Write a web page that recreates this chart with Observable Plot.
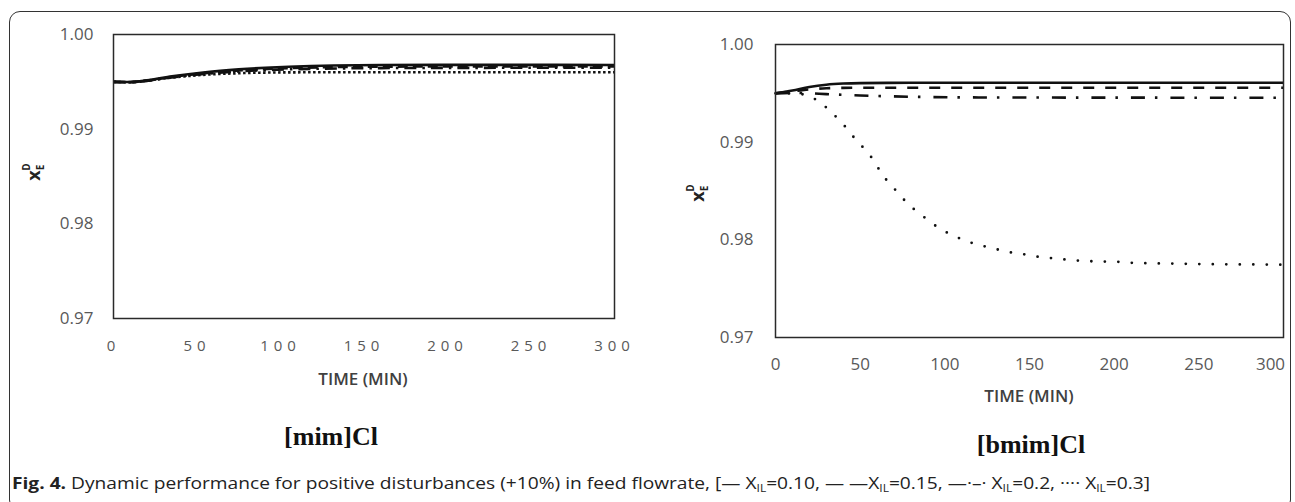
<!DOCTYPE html>
<html><head><meta charset="utf-8">
<script src="https://cdn.jsdelivr.net/npm/d3@7"></script>
<script src="https://cdn.jsdelivr.net/npm/@observablehq/plot@0.6"></script>
<style>
body{margin:0;background:#fff;width:1295px;height:502px;overflow:hidden;position:relative;font-family:"Open Sans",sans-serif;}
#border{position:absolute;left:9px;top:11px;width:1282px;height:500px;border:1.5px solid #333;border-radius:11px;box-sizing:border-box}
.chart{position:absolute;top:0}
.chart svg{overflow:visible}
.t{position:absolute;white-space:nowrap;transform:translate(-50%,-50%)}
.xt{font-weight:600;font-size:17px;color:#404040}
.sub{font-family:"Liberation Serif",serif;font-weight:bold;font-size:26px;color:#111}
.yt{font-weight:700;font-size:18px;color:#222;transform:translate(-50%,-50%) rotate(-90deg)}
.yt sub{font-size:10px;vertical-align:-4px}
.yt sup{font-size:10px;vertical-align:10px;margin-left:-6px}
#cap{position:absolute;left:12px;top:472px;font-size:16px;color:#222;white-space:nowrap;transform-origin:0 50%}
#cap sub{font-size:10px;vertical-align:-3px}
#left .xtick text{letter-spacing:5px}
</style></head><body>
<div id="border"></div>
<div id="left" class="chart" style="left:0"></div>
<div id="right" class="chart" style="left:650px"></div>
<div class="t yt" style="left:33px;top:172px">x<sub>E</sub><sup>D</sup></div>
<div class="t yt" style="left:697px;top:193px">x<sub>E</sub><sup>D</sup></div>
<div class="t xt" style="left:363px;top:378px">TIME (MIN)</div>
<div class="t xt" style="left:1029px;top:395px">TIME (MIN)</div>
<div class="t sub" style="left:331px;top:437px">[mim]Cl</div>
<div class="t sub" style="left:1031px;top:445px">[bmim]Cl</div>
<div id="cap"><b>Fig. 4.</b> Dynamic performance for positive disturbances (+10%) in feed flowrate, [— X<sub>IL</sub>=0.10, — —X<sub>IL</sub>=0.15, —·–· X<sub>IL</sub>=0.2, ···· X<sub>IL</sub>=0.3]</div>
<script>
// ---- data: [mim]Cl (left) ----
const leftTime = [0, 10, 20, 35, 55, 75, 105, 160, 230, 300];
const leftX010 = [0.9950, 0.99498, 0.99515, 0.99558, 0.99602, 0.99632, 0.99660, 0.99678, 0.99679, 0.99678];
const leftX015 = [0.9950, 0.99497, 0.99512, 0.99552, 0.99592, 0.99620, 0.99645, 0.99660, 0.99663, 0.99663];
const leftX020 = [0.9950, 0.99496, 0.99510, 0.99547, 0.99585, 0.99610, 0.99632, 0.99645, 0.99648, 0.99648];
const leftX030 = [0.9950, 0.99496, 0.99515, 0.99545, 0.99575, 0.99591, 0.99600, 0.99602, 0.99602, 0.99602];
// ---- data: [bmim]Cl (right) ----
const rightTime = [0, 10, 20, 30, 40, 50, 80, 120, 200, 300];
const rightX010 = [0.9950, 0.99530, 0.99565, 0.99588, 0.99600, 0.99605, 0.99608, 0.99608, 0.99608, 0.99608];
const rightX015 = [0.9950, 0.99520, 0.99540, 0.99552, 0.99556, 0.99557, 0.99557, 0.99557, 0.99557, 0.99557];
const rightX020 = [0.9950, 0.99505, 0.99500, 0.99492, 0.99485, 0.99478, 0.99465, 0.99458, 0.99456, 0.99455];
const rightTime030 = [0, 10, 17, 24, 30, 36, 42, 47, 53, 58, 62, 67, 73, 78, 85, 91, 98, 105, 113, 120, 129, 137, 145, 153, 161, 169, 178, 186, 194, 202, 210, 219, 240, 260, 280, 300];
const rightX030 = [0.9950, 0.99498, 0.99488, 0.99434, 0.99355, 0.99255, 0.99143, 0.99034, 0.98922, 0.98812, 0.98697, 0.98582, 0.98471, 0.98369, 0.98273, 0.98188, 0.98106, 0.98044, 0.97986, 0.97949, 0.97911, 0.97877, 0.97857, 0.97832, 0.97816, 0.97802, 0.97788, 0.97781, 0.97778, 0.97775, 0.97765, 0.97761, 0.97755, 0.97750, 0.97748, 0.97745];
// ---- ticks ----
const xTicks = [0, 50, 100, 150, 200, 250, 300];
const yTicks = [0.97, 0.98, 0.99, 1.00];

const zip = (ts, vs) => ts.map((t, i) => ({t, v: vs[i]}));

function chart(opts, series) {
  const inner = opts.lastDx ? xTicks.slice(0, -1) : xTicks;
  const axes = [Plot.axisX({ticks: inner, tickSize: 0, tickPadding: opts.xpad, label: null, fontSize: opts.xfs, className: "xtick"})];
  if (opts.lastDx) axes.push(Plot.axisX({ticks: xTicks.slice(-1), tickSize: 0, tickPadding: opts.xpad, label: null, fontSize: opts.xfs, dx: opts.lastDx, className: "xtick"}));
  return Plot.plot({
    width: opts.width, height: opts.height,
    marginLeft: opts.ml, marginRight: opts.mr, marginTop: opts.mt, marginBottom: opts.mb,
    style: {fontFamily: "Open Sans", fontSize: "17px", color: "#595959", background: "transparent", overflow: "visible"},
    x: {domain: [0, 300], label: null},
    y: {domain: [0.97, 1.0], label: null},
    marks: [
      ...axes,
      Plot.axisY({ticks: yTicks, tickSize: 0, tickPadding: opts.ypad, label: null, tickFormat: d3.format(".2f")}),
      ...series.map(s => Plot.line(s.data, {x: "t", y: "v", stroke: "#111", strokeWidth: s.w, strokeDasharray: s.dash, strokeLinecap: s.cap || "butt", curve: "monotone-x"})),
      Plot.frame({stroke: "#2a2a2a", strokeWidth: 1.5})
    ]
  });
}

const L = chart({width: 640, height: 358, ml: 113, mr: 26, mt: 34, mb: 40, xpad: 22, ypad: 20, xfs: 15}, [
  {data: zip(leftTime, leftX030), w: 2.6, dash: "2.5,2.5"},
  {data: zip(leftTime, leftX020), w: 2.6, dash: "12,6,2.5,6"},
  {data: zip(leftTime, leftX015), w: 2.6, dash: "10,5"},
  {data: zip(leftTime, leftX010), w: 2.6}
]);
document.getElementById("left").appendChild(L);

const R = chart({width: 645, height: 380, ml: 125, mr: 12, mt: 44, mb: 43, xpad: 20, ypad: 22, xfs: 17, lastDx: -13}, [
  {data: zip(rightTime030, rightX030), w: 2.8, dash: "0,13.5", cap: "round"},
  {data: zip(rightTime, rightX020), w: 2.6, dash: "14,10,2.5,13"},
  {data: zip(rightTime, rightX015), w: 2.6, dash: "11,11"},
  {data: zip(rightTime, rightX010), w: 2.6}
]);
document.getElementById("right").appendChild(R);

const cap = document.getElementById("cap");
const w = cap.getBoundingClientRect().width;
cap.style.transform = `scaleX(${1138 / w})`;
</script>
</body></html>
